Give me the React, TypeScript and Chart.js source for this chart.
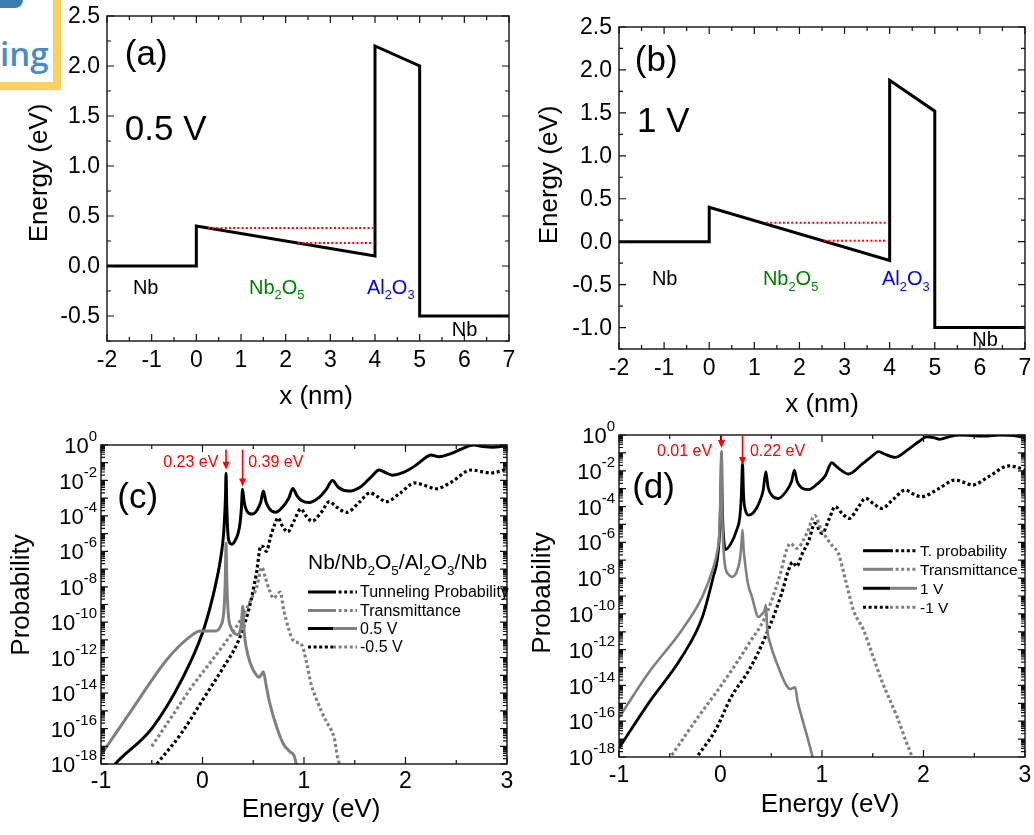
import React, { useEffect, useRef } from "react";
import { Chart, registerables } from "chart.js";

Chart.register(...registerables);

const FONT = "'Liberation Sans', Arial, Helvetica, sans-serif";
const GRAY = "#808080";
const RED = "#ff0000";

// ---------------- Panel (a): band diagram at 0.5 V ----------------
const bandA_x = [-2, 0, 0, 4, 4, 5, 5, 7];
const bandA_E = [0, 0, 0.4, 0.1, 2.2, 2.0, -0.5, -0.5];
const levelA_hi_x = [0.26, 3.95];
const levelA_hi_E = [0.38, 0.38];
const levelA_lo_x = [2.27, 3.95];
const levelA_lo_E = [0.23, 0.23];

// ---------------- Panel (b): band diagram at 1 V ----------------
const bandB_x = [-2, 0, 0, 4, 4, 5, 5, 7];
const bandB_E = [0, 0, 0.4, -0.22, 1.88, 1.52, -1.0, -1.0];
const levelB_hi_x = [1.26, 3.95];
const levelB_hi_E = [0.22, 0.22];
const levelB_lo_x = [2.55, 3.95];
const levelB_lo_E = [0.01, 0.01];

// tick labels for band diagrams
const nmTicks = [-2, -1, 0, 1, 2, 3, 4, 5, 6, 7];
const nmMinor = [-1.5, -0.5, 0.5, 1.5, 2.5, 3.5, 4.5, 5.5, 6.5];
const nmLabels = ["-2", "-1", "0", "1", "2", "3", "4", "5", "6", "7"];
const eA_Ticks = [-0.5, 0, 0.5, 1, 1.5, 2, 2.5];
const eA_Minor = [-0.75, -0.25, 0.25, 0.75, 1.25, 1.75, 2.25];
const eA_Labels = ["-0.5", "0.0", "0.5", "1.0", "1.5", "2.0", "2.5"];
const eB_Ticks = [-1, -0.5, 0, 0.5, 1, 1.5, 2, 2.5];
const eB_Minor = [-1.25, -0.75, -0.25, 0.25, 0.75, 1.25, 1.75, 2.25];
const eB_Labels = ["-1.0", "-0.5", "0.0", "0.5", "1.0", "1.5", "2.0", "2.5"];

// ---------------- Panel (c): probabilities, +/-0.5 V (log10 values) ----------------
const c_TPpos_E = [-0.9, -0.86, -0.5, -0.2, 0.0, 0.1, 0.17, 0.2, 0.215, 0.226, 0.232, 0.238, 0.248, 0.265, 0.29, 0.32, 0.35, 0.37, 0.383, 0.395, 0.41, 0.44, 0.49, 0.54, 0.575, 0.6, 0.625, 0.66, 0.72, 0.79, 0.85, 0.89, 0.93, 0.98, 1.05, 1.14, 1.22, 1.28, 1.34, 1.44, 1.56, 1.67, 1.74, 1.8, 1.87, 1.98, 2.1, 2.2, 2.25, 2.33, 2.44, 2.56, 2.67, 2.76, 2.86, 3.0];
const c_TPpos_log = [-18.3, -18.0, -16.0, -13.2, -10.6, -8.6, -6.7, -5.5, -4.4, -3.0, -1.6, -3.2, -4.8, -5.5, -5.6, -5.4, -5.0, -4.4, -3.6, -2.5, -3.2, -3.75, -3.9, -3.65, -3.2, -2.6, -3.2, -3.6, -3.8, -3.5, -3.0, -2.45, -2.85, -3.15, -3.25, -3.0, -2.5, -2.0, -2.4, -2.6, -2.35, -1.75, -1.41, -1.55, -1.7, -1.55, -1.15, -0.7, -0.56, -0.66, -0.5, -0.2, 0.0, -0.08, -0.12, -0.04];
const c_Tpos_E = [-1.0, -0.68, -0.35, -0.12, -0.02, 0.05, 0.12, 0.18, 0.21, 0.224, 0.232, 0.24, 0.255, 0.28, 0.31, 0.345, 0.37, 0.385, 0.397, 0.41, 0.43, 0.47, 0.52, 0.56, 0.6, 0.625, 0.66, 0.73, 0.8, 0.86, 0.9, 0.92, 0.94];
const c_Tpos_log = [-17.5, -14.8, -12.1, -10.8, -10.5, -10.5, -10.5, -10.2, -9.4, -7.8, -5.55, -7.8, -9.6, -10.3, -10.6, -10.7, -10.5, -10.0, -9.1, -10.5, -11.4, -12.3, -12.9, -13.1, -12.8, -13.5, -14.5, -15.9, -16.9, -17.3, -17.5, -17.9, -18.6];
const c_TPneg_E = [-0.45, -0.2, 0.0, 0.2, 0.35, 0.45, 0.53, 0.575, 0.6, 0.63, 0.67, 0.71, 0.745, 0.78, 0.84, 0.9, 0.97, 1.02, 1.08, 1.17, 1.25, 1.32, 1.42, 1.55, 1.65, 1.72, 1.81, 1.95, 2.09, 2.2, 2.3, 2.45, 2.65, 2.75, 2.84, 3.0];
const c_TPneg_log = [-18.0, -16.2, -14.4, -12.6, -11.1, -9.4, -7.3, -5.7, -5.75, -6.0, -5.2, -4.5, -4.1, -4.5, -4.9, -4.3, -3.6, -4.0, -4.3, -3.8, -3.2, -3.5, -3.8, -3.2, -2.7, -2.9, -3.2, -2.7, -2.14, -2.3, -2.47, -2.1, -1.41, -1.5, -1.58, -1.35];
const c_Tneg_E = [-0.5, -0.3, -0.1, 0.1, 0.34, 0.4, 0.48, 0.535, 0.585, 0.62, 0.66, 0.7, 0.74, 0.765, 0.8, 0.85, 0.89, 0.94, 0.98, 1.03, 1.07, 1.12, 1.17, 1.22, 1.27, 1.3, 1.33, 1.36];
const c_Tneg_log = [-17.0, -15.3, -13.6, -12.1, -10.2, -9.6, -8.7, -8.0, -6.9, -7.5, -8.2, -8.65, -8.4, -8.3, -9.3, -10.4, -11.0, -11.15, -11.3, -12.4, -13.5, -14.3, -15.0, -15.6, -16.1, -16.6, -17.6, -18.2];

// ---------------- Panel (d): probabilities, +/-1 V (log10 values) ----------------
const d_TPpos_E = [-1.0, -0.71, -0.38, -0.18, -0.07, -0.03, -0.005, 0.004, 0.01, 0.016, 0.025, 0.035, 0.046, 0.1, 0.16, 0.19, 0.205, 0.217, 0.228, 0.245, 0.28, 0.33, 0.38, 0.42, 0.447, 0.468, 0.51, 0.57, 0.64, 0.7, 0.728, 0.755, 0.8, 0.87, 0.95, 1.03, 1.096, 1.15, 1.26, 1.4, 1.5, 1.555, 1.61, 1.72, 1.85, 1.96, 2.03, 2.1, 2.16, 2.25, 2.36, 2.5, 2.6, 2.75, 2.89, 3.0];
const d_TPpos_log = [-17.5, -15.0, -12.4, -10.2, -7.9, -6.9, -5.0, -3.0, -1.0, -3.5, -5.2, -6.0, -6.4, -6.1, -5.3, -4.6, -3.4, -1.58, -3.4, -4.2, -4.48, -4.3, -3.8, -3.1, -2.05, -2.9, -3.4, -3.55, -3.2, -2.6, -1.96, -2.6, -2.95, -3.05, -2.75, -2.3, -1.55, -1.8, -2.18, -1.6, -1.15, -0.93, -1.05, -1.25, -0.8, -0.35, -0.1, -0.15, -0.24, -0.1, 0.0, -0.05, -0.06, 0.0, -0.03, -0.15];
const d_Tpos_E = [-1.0, -0.71, -0.38, -0.18, -0.07, -0.035, -0.012, 0.0, 0.01, 0.018, 0.03, 0.046, 0.08, 0.112, 0.16, 0.19, 0.205, 0.217, 0.228, 0.243, 0.27, 0.31, 0.374, 0.41, 0.435, 0.447, 0.46, 0.49, 0.57, 0.65, 0.69, 0.735, 0.76, 0.8, 0.88, 0.92];
const d_Tpos_log = [-15.8, -13.3, -10.9, -9.05, -7.4, -6.6, -5.5, -3.3, -0.9, -4.5, -6.4, -7.35, -7.8, -7.93, -7.65, -7.0, -6.2, -5.3, -6.4, -7.2, -8.3, -9.05, -10.17, -10.0, -9.8, -9.5, -10.8, -11.66, -12.97, -14.0, -14.2, -14.1, -14.9, -15.76, -17.4, -18.3];
const d_TPneg_E = [-0.22, -0.05, 0.11, 0.28, 0.44, 0.6, 0.67, 0.71, 0.75, 0.8, 0.87, 0.93, 1.0, 1.07, 1.13, 1.2, 1.27, 1.35, 1.43, 1.51, 1.59, 1.7, 1.82, 1.9, 1.98, 2.15, 2.31, 2.4, 2.48, 2.65, 2.84, 2.92, 3.0];
const d_TPneg_log = [-17.9, -16.5, -14.6, -13.15, -11.3, -8.9, -7.55, -7.1, -7.35, -6.7, -5.9, -4.94, -5.5, -4.7, -4.0, -4.4, -4.66, -4.1, -3.54, -3.85, -4.1, -3.6, -3.08, -3.3, -3.45, -3.0, -2.52, -2.65, -2.8, -2.3, -1.73, -1.8, -1.96];
const d_Tneg_E = [-0.48, -0.22, -0.05, 0.11, 0.28, 0.44, 0.59, 0.65, 0.69, 0.75, 0.85, 0.93, 0.98, 1.05, 1.11, 1.16, 1.24, 1.31, 1.41, 1.47, 1.6, 1.74, 1.83, 1.88, 1.9];
const d_Tneg_log = [-17.9, -15.76, -14.45, -13.15, -11.66, -10.17, -7.74, -6.44, -6.06, -6.34, -5.5, -4.5, -5.13, -5.8, -6.25, -6.6, -8.3, -9.8, -10.9, -11.85, -13.9, -15.76, -17.16, -17.9, -18.4];

// tick labels for probability panels
const evTicks = [-1, 0, 1, 2, 3];
const evMinor = [-0.5, 0.5, 1.5, 2.5];
const evLabels = ["-1", "0", "1", "2", "3"];
const probLabelVals = [1, 1e-2, 1e-4, 1e-6, 1e-8, 1e-10, 1e-12, 1e-14, 1e-16, 1e-18];
const probLabelExp = ["0", "-2", "-4", "-6", "-8", "-10", "-12", "-14", "-16", "-18"];
const probDecadeExp = [0, -1, -2, -3, -4, -5, -6, -7, -8, -9, -10, -11, -12, -13, -14, -15, -16, -17, -18];

// ---------------- helpers ----------------
const pts = (xs: number[], ys: number[]) => xs.map((x, i) => ({ x, y: ys[i] }));
const ptsLog = (xs: number[], logs: number[]) => xs.map((x, i) => ({ x, y: Math.pow(10, logs[i]) }));

const lineDs = (data: any[], color: string, width: number, dotted: boolean, order: number, smooth: boolean) => ({
  data,
  borderColor: color,
  backgroundColor: color,
  borderWidth: width,
  borderDash: dotted ? [3, 2.6] : [],
  borderCapStyle: "butt",
  borderJoinStyle: "miter",
  pointRadius: 0,
  fill: false,
  order,
  tension: 0,
  cubicInterpolationMode: smooth ? "monotone" : "default",
});

type Part = { t: string; s?: "sub" | "sup" };
function rich(str: string): Part[] {
  const parts: Part[] = [];
  let buf = "";
  for (let i = 0; i < str.length; i++) {
    if (str[i] === "_" && i + 1 < str.length) {
      if (buf) { parts.push({ t: buf }); buf = ""; }
      parts.push({ t: str[i + 1], s: "sub" });
      i++;
    } else buf += str[i];
  }
  if (buf) parts.push({ t: buf });
  return parts;
}

function drawParts(ctx: CanvasRenderingContext2D, parts: Part[], x: number, y: number, size: number, color: string, align: string) {
  const small = size * 0.64;
  const widths = parts.map((p) => {
    ctx.font = `${p.s ? small : size}px ${FONT}`;
    return ctx.measureText(p.t).width;
  });
  const total = widths.reduce((a, b) => a + b, 0);
  let cx = align === "left" ? x : align === "right" ? x - total : x - total / 2;
  ctx.fillStyle = color;
  ctx.textAlign = "left";
  ctx.textBaseline = "middle";
  parts.forEach((p, i) => {
    ctx.font = `${p.s ? small : size}px ${FONT}`;
    const dy = p.s === "sub" ? size * 0.38 : p.s === "sup" ? -size * 0.42 : 0;
    ctx.fillText(p.t, cx, y + dy);
    cx += widths[i];
  });
}

function seg(ctx: CanvasRenderingContext2D, x1: number, x2: number, y: number, color: string, dotted: boolean, w: number) {
  ctx.save();
  ctx.strokeStyle = color;
  ctx.lineWidth = w;
  ctx.lineCap = "butt";
  ctx.setLineDash(dotted ? [3, 2.6] : []);
  ctx.beginPath();
  ctx.moveTo(x1, y);
  ctx.lineTo(x2, y);
  ctx.stroke();
  ctx.restore();
}

type TextSpec = { s: string; x: number; y: number; size: number; color: string; align?: string };
type Spec = {
  log: boolean;
  xMajor: number[]; xMinor: number[]; xLabels: string[];
  yMajor: number[]; yMinor: number[]; yLabelVals: number[]; yLabels: string[];
  xTitle: [string, number, number];
  yTitle: [string, number, number];
  xLabelDy: number;
  texts: TextSpec[];
  arrows?: { x: number; y1: number; y2: number }[];
  legend?: (ctx: CanvasRenderingContext2D) => void;
};

function framePlugin(spec: Spec) {
  return {
    id: "frameAxes",
    afterDatasetsDraw(chart: any) {
      const ctx: CanvasRenderingContext2D = chart.ctx;
      const a = chart.chartArea;
      const xs = chart.scales.x;
      const ys = chart.scales.y;
      ctx.save();
      ctx.setLineDash([]);
      ctx.strokeStyle = "#111";
      ctx.lineWidth = 1.4;
      ctx.strokeRect(a.left, a.top, a.right - a.left, a.bottom - a.top);
      ctx.lineWidth = 1.2;
      ctx.beginPath();
      const xt = (v: number, len: number) => {
        const px = xs.getPixelForValue(v);
        ctx.moveTo(px, a.bottom); ctx.lineTo(px, a.bottom - len);
        ctx.moveTo(px, a.top); ctx.lineTo(px, a.top + len);
      };
      const yt = (v: number, len: number) => {
        const py = ys.getPixelForValue(v);
        ctx.moveTo(a.left, py); ctx.lineTo(a.left + len, py);
        ctx.moveTo(a.right, py); ctx.lineTo(a.right - len, py);
      };
      spec.xMajor.forEach((v) => xt(v, 7));
      spec.xMinor.forEach((v) => xt(v, 4));
      spec.yMajor.forEach((v) => yt(v, 7));
      spec.yMinor.forEach((v) => yt(v, 4));
      ctx.stroke();

      // x tick labels
      ctx.fillStyle = "#000";
      ctx.textAlign = "center";
      ctx.textBaseline = "middle";
      ctx.font = `23px ${FONT}`;
      spec.xMajor.forEach((v, i) => {
        ctx.fillText(spec.xLabels[i], xs.getPixelForValue(v), a.bottom + spec.xLabelDy);
      });
      // y tick labels
      spec.yLabelVals.forEach((v, i) => {
        const py = ys.getPixelForValue(v);
        if (spec.log) {
          ctx.font = `15px ${FONT}`;
          const ew = ctx.measureText(spec.yLabels[i]).width;
          ctx.textAlign = "right";
          ctx.fillText(spec.yLabels[i], a.left - 4, py - 8);
          ctx.font = `22px ${FONT}`;
          ctx.fillText("10", a.left - 4 - ew, py + 2);
        } else {
          ctx.font = `23px ${FONT}`;
          ctx.textAlign = "right";
          ctx.fillText(spec.yLabels[i], a.left - 7, py + 1);
        }
      });
      // axis titles
      ctx.font = `26px ${FONT}`;
      ctx.textAlign = "center";
      ctx.fillText(spec.xTitle[0], spec.xTitle[1], spec.xTitle[2]);
      ctx.save();
      ctx.translate(spec.yTitle[1], spec.yTitle[2]);
      ctx.rotate(-Math.PI / 2);
      ctx.fillText(spec.yTitle[0], 0, 0);
      ctx.restore();

      // in-plot texts (data coordinates)
      spec.texts.forEach((t) => {
        drawParts(ctx, rich(t.s), xs.getPixelForValue(t.x), ys.getPixelForValue(t.y), t.size, t.color, t.align || "left");
      });
      // arrows
      (spec.arrows || []).forEach((ar) => {
        const px = xs.getPixelForValue(ar.x);
        const p1 = ys.getPixelForValue(ar.y1);
        const p2 = ys.getPixelForValue(ar.y2);
        ctx.strokeStyle = RED;
        ctx.fillStyle = RED;
        ctx.lineWidth = 1.6;
        ctx.beginPath();
        ctx.moveTo(px, p1);
        ctx.lineTo(px, p2 - 6);
        ctx.stroke();
        ctx.beginPath();
        ctx.moveTo(px - 3.5, p2 - 8);
        ctx.lineTo(px + 3.5, p2 - 8);
        ctx.lineTo(px, p2);
        ctx.closePath();
        ctx.fill();
      });
      if (spec.legend) spec.legend(ctx);
      ctx.restore();
    },
  };
}

function baseOptions(pad: any, xr: [number, number], yr: [number, number], log: boolean) {
  return {
    animation: false,
    responsive: false,
    maintainAspectRatio: false,
    devicePixelRatio: 1,
    layout: { padding: pad },
    plugins: { legend: { display: false }, tooltip: { enabled: false }, title: { display: false } },
    events: [],
    scales: {
      x: { type: "linear", min: xr[0], max: xr[1], display: false },
      y: { type: log ? "logarithmic" : "linear", min: yr[0], max: yr[1], display: false },
    },
  };
}

// ---------------- panel builders ----------------
function buildA(): any {
  const spec: Spec = {
    log: false,
    xMajor: nmTicks, xMinor: nmMinor, xLabels: nmLabels,
    yMajor: eA_Ticks, yMinor: eA_Minor, yLabelVals: eA_Ticks, yLabels: eA_Labels,
    xTitle: ["x (nm)", 316, 397],
    yTitle: ["Energy (eV)", 40, 173],
    xLabelDy: 20,
    texts: [
      { s: "(a)", x: -1.6, y: 2.11, size: 35, color: "#000" },
      { s: "0.5 V", x: -1.6, y: 1.36, size: 35, color: "#000" },
      { s: "Nb", x: -1.42, y: -0.22, size: 20, color: "#000" },
      { s: "Nb_2O_5", x: 1.18, y: -0.22, size: 20, color: "#008000" },
      { s: "Al_2O_3", x: 3.82, y: -0.22, size: 20, color: "#0000ff" },
      { s: "Nb", x: 5.72, y: -0.64, size: 20, color: "#000" },
    ],
  };
  return {
    type: "line",
    data: {
      datasets: [
        lineDs(pts(levelA_hi_x, levelA_hi_E), RED, 2, false, 0, false),
        lineDs(pts(levelA_lo_x, levelA_lo_E), RED, 2, false, 1, false),
        lineDs(pts(bandA_x, bandA_E), "#000", 3, false, 2, false),
      ].map((d, i) => (i < 2 ? { ...d, borderDash: [2, 2.2] } : d)),
    },
    options: baseOptions({ left: 107, top: 16, right: 8, bottom: 77 }, [-2, 7], [-0.75, 2.5], false),
    plugins: [framePlugin(spec)],
  };
}

function buildB(): any {
  const spec: Spec = {
    log: false,
    xMajor: nmTicks, xMinor: nmMinor, xLabels: nmLabels,
    yMajor: eB_Ticks, yMinor: eB_Minor, yLabelVals: eB_Ticks, yLabels: eB_Labels,
    xTitle: ["x (nm)", 305, 405],
    yTitle: ["Energy (eV)", 33, 175],
    xLabelDy: 20,
    texts: [
      { s: "(b)", x: -1.65, y: 2.1, size: 35, color: "#000" },
      { s: "1 V", x: -1.6, y: 1.39, size: 35, color: "#000" },
      { s: "Nb", x: -1.27, y: -0.44, size: 20, color: "#000" },
      { s: "Nb_2O_5", x: 1.19, y: -0.44, size: 20, color: "#008000" },
      { s: "Al_2O_3", x: 3.83, y: -0.44, size: 20, color: "#0000ff" },
      { s: "Nb", x: 5.83, y: -1.15, size: 20, color: "#000" },
    ],
  };
  return {
    type: "line",
    data: {
      datasets: [
        lineDs(pts(levelB_hi_x, levelB_hi_E), RED, 2, false, 0, false),
        lineDs(pts(levelB_lo_x, levelB_lo_E), RED, 2, false, 1, false),
        lineDs(pts(bandB_x, bandB_E), "#000", 3, false, 2, false),
      ].map((d, i) => (i < 2 ? { ...d, borderDash: [2, 2.2] } : d)),
    },
    options: baseOptions({ left: 102, top: 27, right: 9, bottom: 69 }, [-2, 7], [-1.25, 2.5], false),
    plugins: [framePlugin(spec)],
  };
}

function logMinor(): number[] {
  const out: number[] = [];
  probDecadeExp.forEach((e) => {
    if (e < 0) for (let m = 2; m <= 9; m++) out.push(m * Math.pow(10, e));
  });
  return out;
}

function legendRows(ctx: CanvasRenderingContext2D, x0: number, xm: number, x1: number, tx: number, rows: any[], size: number) {
  rows.forEach((r) => {
    seg(ctx, x0, xm, r.y, r.c1, r.d1, 3);
    seg(ctx, xm, x1, r.y, r.c2, r.d2, 3);
    ctx.fillStyle = "#000";
    ctx.font = `${size}px ${FONT}`;
    ctx.textAlign = "left";
    ctx.textBaseline = "middle";
    ctx.fillText(r.label, tx, r.y + 1);
  });
}

function buildC(): any {
  const spec: Spec = {
    log: true,
    xMajor: evTicks, xMinor: evMinor, xLabels: evLabels,
    yMajor: probDecadeExp.map((e) => Math.pow(10, e)), yMinor: logMinor(),
    yLabelVals: probLabelVals, yLabels: probLabelExp,
    xTitle: ["Energy (eV)", 311, 393],
    yTitle: ["Probability", 22, 178],
    xLabelDy: 18,
    texts: [
      { s: "(c)", x: -0.84, y: 1e-3, size: 35, color: "#000" },
      { s: "0.23 eV", x: 0.157, y: 0.1, size: 16, color: RED, align: "right" },
      { s: "0.39 eV", x: 0.45, y: 0.1, size: 16, color: RED },
    ],
    arrows: [
      { x: 0.232, y1: 0.55, y2: 0.04 },
      { x: 0.395, y1: 0.55, y2: 0.0045 },
    ],
    legend: (ctx) => {
      drawParts(ctx, rich("Nb/Nb_2O_5/Al_2O_3/Nb"), 308, 146, 21, "#000", "left");
      legendRows(ctx, 308, 333, 357, 360, [
        { y: 175, c1: "#000", d1: false, c2: "#000", d2: true, label: "Tunneling Probability" },
        { y: 193.5, c1: GRAY, d1: false, c2: GRAY, d2: true, label: "Transmittance" },
        { y: 211.5, c1: "#000", d1: false, c2: GRAY, d2: false, label: "0.5 V" },
        { y: 230, c1: "#000", d1: true, c2: GRAY, d2: true, label: "-0.5 V" },
      ], 16);
    },
  };
  return {
    type: "line",
    data: {
      datasets: [
        lineDs(ptsLog(c_Tpos_E, c_Tpos_log), GRAY, 3, false, 0, true),
        lineDs(ptsLog(c_TPpos_E, c_TPpos_log), "#000", 3, false, 1, true),
        lineDs(ptsLog(c_Tneg_E, c_Tneg_log), GRAY, 3.2, true, 2, true),
        lineDs(ptsLog(c_TPneg_E, c_TPneg_log), "#000", 3.2, true, 3, true),
      ],
    },
    options: baseOptions({ left: 101, top: 28, right: 10, bottom: 71 }, [-1, 3], [1e-18, 1], true),
    plugins: [framePlugin(spec)],
  };
}

function buildD(): any {
  const spec: Spec = {
    log: true,
    xMajor: evTicks, xMinor: evMinor, xLabels: evLabels,
    yMajor: probDecadeExp.map((e) => Math.pow(10, e)), yMinor: logMinor(),
    yLabelVals: probLabelVals, yLabels: probLabelExp,
    xTitle: ["Energy (eV)", 313, 388],
    yTitle: ["Probability", 26, 176],
    xLabelDy: 19,
    texts: [
      { s: "(d)", x: -0.87, y: 1e-3, size: 35, color: "#000" },
      { s: "0.01 eV", x: -0.082, y: 0.117, size: 16, color: RED, align: "right" },
      { s: "0.22 eV", x: 0.29, y: 0.117, size: 16, color: RED },
    ],
    arrows: [
      { x: 0.01, y1: 1, y2: 0.19 },
      { x: 0.217, y1: 1, y2: 0.021 },
    ],
    legend: (ctx) => {
      legendRows(ctx, 346, 373, 400, 403, [
        { y: 133.7, c1: "#000", d1: false, c2: "#000", d2: true, label: "T. probability" },
        { y: 152.3, c1: GRAY, d1: false, c2: GRAY, d2: true, label: "Transmittance" },
        { y: 171.3, c1: "#000", d1: false, c2: GRAY, d2: false, label: "1 V" },
        { y: 190.3, c1: "#000", d1: true, c2: GRAY, d2: true, label: "-1 V" },
      ], 15.5);
    },
  };
  return {
    type: "line",
    data: {
      datasets: [
        lineDs(ptsLog(d_Tpos_E, d_Tpos_log), GRAY, 2.6, false, 0, true),
        lineDs(ptsLog(d_TPpos_E, d_TPpos_log), "#000", 2.8, false, 1, true),
        lineDs(ptsLog(d_Tneg_E, d_Tneg_log), GRAY, 3.2, true, 2, true),
        lineDs(ptsLog(d_TPneg_E, d_TPneg_log), "#000", 3.2, true, 3, true),
      ],
    },
    options: baseOptions({ left: 102, top: 18, right: 9, bottom: 78 }, [-1, 3], [1e-18, 1], true),
    plugins: [framePlugin(spec)],
  };
}

function Panel({ left, top, build }: { left: number; top: number; build: () => any }) {
  const ref = useRef<HTMLCanvasElement>(null);
  useEffect(() => {
    const chart = new Chart(ref.current as HTMLCanvasElement, build());
    return () => chart.destroy();
  }, []);
  return (
    <canvas
      ref={ref}
      width={517}
      height={418}
      style={{ position: "absolute", left, top, width: 517, height: 418, display: "block" }}
    />
  );
}

export default function App() {
  return (
    <div style={{ position: "fixed", left: 0, top: 0, width: 1034, height: 835, background: "#fff", overflow: "hidden" }}>
      <Panel left={0} top={0} build={buildA} />
      <Panel left={517} top={0} build={buildB} />
      <Panel left={0} top={417} build={buildC} />
      <Panel left={517} top={417} build={buildD} />
      <div
        style={{
          position: "absolute", left: 0, top: 0, width: 53, height: 82,
          borderRight: "8px solid #fbd35c", borderBottom: "8px solid #fbd35c", background: "#fff",
        }}
      >
        <div style={{ position: "absolute", left: 0, top: 0, width: 23, height: 8, background: "#3a7db5", borderBottomRightRadius: 12 }} />
        <span
          style={{
            position: "absolute", left: 0, top: 34, fontFamily: "'Open Sans', sans-serif", fontWeight: 600,
            fontSize: 33, color: "#4a8cc2", lineHeight: "40px",
          }}
        >
          ing
        </span>
      </div>
    </div>
  );
}
